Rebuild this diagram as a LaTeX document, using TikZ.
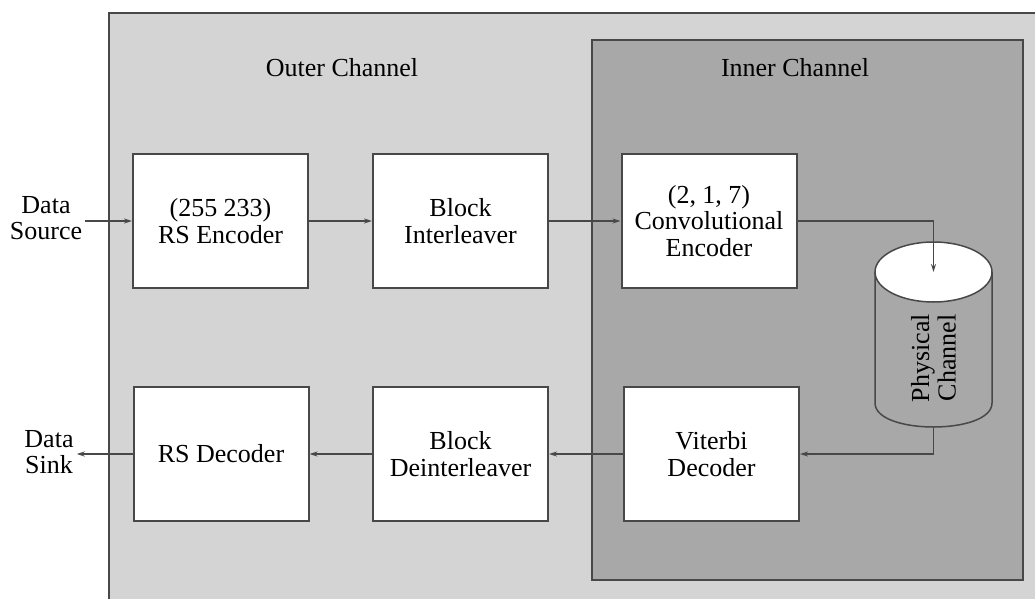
\documentclass[tikz,border=0pt]{standalone}
\usepackage{fontspec}
\setmainfont{Liberation Serif}
\usetikzlibrary{arrows.meta}
\definecolor{outerg}{HTML}{D4D4D4}
\definecolor{innerg}{HTML}{A8A8A8}
\definecolor{lineg}{HTML}{484848}
\tikzset{
  blk/.style={draw=lineg, line width=2pt, fill=white, minimum width=175pt, minimum height=134pt, align=center, inner sep=0pt, font=\fontsize{26}{26.5}\selectfont},
  lbl/.style={align=center, inner sep=3pt, font=\fontsize{26}{26.5}\selectfont},
  conn/.style={draw=lineg, line width=1.5pt, -{Stealth[length=8pt,width=5pt]}},
  plain/.style={draw=lineg, line width=1.5pt}
}
\begin{document}
\begin{tikzpicture}[x=1pt,y=-1pt]
\useasboundingbox (0,0) rectangle (1035,599);
\fill[white] (0,0) rectangle (1035,599);
\begin{scope}
\clip (0,0) rectangle (1035,599);
\draw[lineg, line width=2pt, fill=outerg] (109,13) rectangle (1045,612);
\end{scope}
\draw[lineg, line width=2pt, fill=innerg] (592,40) rectangle (1023,580);
\node[lbl] (outerlbl) at (342,68) {Outer Channel};
\node[lbl] (innerlbl) at (795,68) {Inner Channel};
% boxes
\node[blk] (rsenc) at (220.5,221) {(255 233)\\RS Encoder};
\node[blk] (bint) at (460.5,221) {Block\\Interleaver};
\node[blk] (conv) at (709,221) {(2, 1, 7)\\Convolutional\\Encoder};
\node[blk] (rsdec) at (221,454) {RS Decoder};
\node[blk] (bdeint) at (460.5,454) {Block\\Deinterleaver};
\node[blk] (vit) at (711.5,454) {Viterbi\\Decoder};
\node[lbl] (src) at (46,218) {Data\\Source};
\node[lbl] (sink) at (49,452) {Data\\Sink};
% cylinder
\fill[innerg] (875,272) -- (875,403) .. controls (875,435) and (992,435) .. (992,403) -- (992,272) -- cycle;
\draw[plain] (875,272) -- (875,403) .. controls (875,435) and (992,435) .. (992,403) -- (992,272);
\draw[plain, fill=white] (933.5,272) ellipse [x radius=58.5pt, y radius=30pt];
\coordinate (cyltop) at (933.5,272);
\coordinate (cylbot) at (933.5,427);
\node[lbl, rotate=90] (phys) at (933.5,358) {Physical\\Channel};
% connectors
\draw[conn] (src.east |- rsenc.west) -- (rsenc.west);
\draw[conn] (rsenc.east) -- (bint.west);
\draw[conn] (bint.east) -- (conv.west);
\draw[conn] (conv.east) -| (cyltop);
\draw[conn] (cylbot) |- (vit.east);
\draw[conn] (vit.west) -- (bdeint.east);
\draw[conn] (bdeint.west) -- (rsdec.east);
\draw[conn] (rsdec.west) -- (sink.east |- rsdec.west);
\end{tikzpicture}
\end{document}
